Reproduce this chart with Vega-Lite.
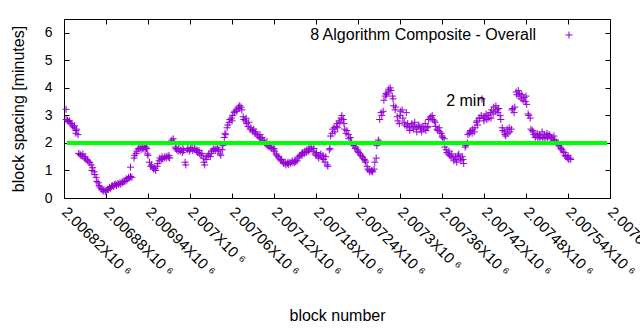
{
"$schema": "https://vega.github.io/schema/vega-lite/v6.json",
"width": 546, "height": 179,
"autosize": "none",
"padding": {"left": 64, "top": 19, "right": 30, "bottom": 132},
"background": "white",
"config": {
  "font": "Liberation Sans",
  "view": {"stroke": "black", "strokeWidth": 1},
  "axis": {"labelFont": "Liberation Sans", "labelFontSize": 14, "labelColor": "black", "titleFont": "Liberation Sans", "titleFontSize": 16, "titleFontWeight": "normal", "titleColor": "black", "domain": false, "grid": false, "tickColor": "black", "tickSize": -5, "tickWidth": 1},
  "legend": {"orient": "none", "legendX": 497, "legendY": 8, "padding": 0, "labelAlign": "right", "labelOffset": -41, "labelFont": "Liberation Sans", "labelFontSize": 16, "labelColor": "black", "labelLimit": 400, "symbolType": "M-1,0L1,0M0,-1L0,1", "symbolSize": 49, "symbolStrokeWidth": 1, "symbolFillColor": "transparent"}
},
"datasets": {
"target": [{"block": 2006824, "minutes": 2}, {"block": 2007596, "minutes": 2}],
"spacing": [
{"block":2006823,"minutes":3.22},{"block":2006823,"minutes":2.85},{"block":2006825,"minutes":2.82},{"block":2006826,"minutes":2.78},{"block":2006828,"minutes":2.8},{"block":2006829,"minutes":2.72},{"block":2006831,"minutes":2.7},{"block":2006832,"minutes":2.62},{"block":2006834,"minutes":2.55},{"block":2006835,"minutes":2.62},{"block":2006837,"minutes":2.35},{"block":2006837,"minutes":2.45},{"block":2006838,"minutes":2.5},{"block":2006840,"minutes":2.3},{"block":2006841,"minutes":1.62},{"block":2006843,"minutes":1.58},{"block":2006844,"minutes":1.55},{"block":2006846,"minutes":1.52},{"block":2006847,"minutes":1.6},{"block":2006849,"minutes":1.45},{"block":2006850,"minutes":1.5},{"block":2006851,"minutes":1.42},{"block":2006853,"minutes":1.38},{"block":2006854,"minutes":1.35},{"block":2006856,"minutes":1.3},{"block":2006857,"minutes":1.28},{"block":2006859,"minutes":1.2},{"block":2006860,"minutes":1.0},{"block":2006861,"minutes":1.1},{"block":2006863,"minutes":0.95},{"block":2006864,"minutes":0.85},{"block":2006866,"minutes":0.75},{"block":2006867,"minutes":0.6},{"block":2006869,"minutes":0.55},{"block":2006870,"minutes":0.45},{"block":2006871,"minutes":0.4},{"block":2006873,"minutes":0.35},{"block":2006874,"minutes":0.3},{"block":2006876,"minutes":0.25},{"block":2006877,"minutes":0.3},{"block":2006879,"minutes":0.22},{"block":2006880,"minutes":0.28},{"block":2006882,"minutes":0.32},{"block":2006883,"minutes":0.3},{"block":2006885,"minutes":0.38},{"block":2006886,"minutes":0.35},{"block":2006888,"minutes":0.42},{"block":2006889,"minutes":0.45},{"block":2006891,"minutes":0.42},{"block":2006892,"minutes":0.48},{"block":2006894,"minutes":0.5},{"block":2006895,"minutes":0.45},{"block":2006897,"minutes":0.52},{"block":2006898,"minutes":0.5},{"block":2006900,"minutes":0.55},{"block":2006901,"minutes":0.5},{"block":2006903,"minutes":0.58},{"block":2006904,"minutes":0.55},{"block":2006906,"minutes":0.62},{"block":2006907,"minutes":0.6},{"block":2006909,"minutes":0.7},{"block":2006910,"minutes":0.65},{"block":2006912,"minutes":0.75},{"block":2006913,"minutes":0.72},{"block":2006915,"minutes":0.78},{"block":2006915,"minutes":1.12},{"block":2006917,"minutes":0.75},{"block":2006920,"minutes":1.45},{"block":2006921,"minutes":1.55},{"block":2006923,"minutes":1.62},{"block":2006924,"minutes":1.7},{"block":2006926,"minutes":1.78},{"block":2006927,"minutes":1.8},{"block":2006929,"minutes":1.85},{"block":2006930,"minutes":1.75},{"block":2006932,"minutes":1.82},{"block":2006933,"minutes":1.78},{"block":2006935,"minutes":1.88},{"block":2006936,"minutes":1.75},{"block":2006937,"minutes":1.85},{"block":2006938,"minutes":1.8},{"block":2006939,"minutes":1.6},{"block":2006940,"minutes":1.55},{"block":2006942,"minutes":1.3},{"block":2006944,"minutes":1.15},{"block":2006945,"minutes":1.2},{"block":2006947,"minutes":1.1},{"block":2006948,"minutes":1.05},{"block":2006950,"minutes":1.08},{"block":2006951,"minutes":1.0},{"block":2006953,"minutes":1.15},{"block":2006954,"minutes":1.25},{"block":2006956,"minutes":1.35},{"block":2006957,"minutes":1.45},{"block":2006959,"minutes":1.4},{"block":2006960,"minutes":1.5},{"block":2006961,"minutes":1.42},{"block":2006963,"minutes":1.45},{"block":2006964,"minutes":1.5},{"block":2006966,"minutes":1.45},{"block":2006967,"minutes":1.52},{"block":2006969,"minutes":1.48},{"block":2006970,"minutes":1.55},{"block":2006971,"minutes":1.45},{"block":2006973,"minutes":2.05},{"block":2006974,"minutes":2.1},{"block":2006976,"minutes":2.15},{"block":2006977,"minutes":2.05},{"block":2006979,"minutes":1.85},{"block":2006980,"minutes":1.8},{"block":2006981,"minutes":1.75},{"block":2006983,"minutes":1.7},{"block":2006984,"minutes":1.8},{"block":2006986,"minutes":1.7},{"block":2006987,"minutes":1.75},{"block":2006989,"minutes":1.65},{"block":2006990,"minutes":1.8},{"block":2006991,"minutes":1.72},{"block":2006993,"minutes":1.3},{"block":2006994,"minutes":1.2},{"block":2006996,"minutes":1.75},{"block":2006997,"minutes":1.8},{"block":2006999,"minutes":1.7},{"block":2007000,"minutes":1.75},{"block":2007001,"minutes":1.82},{"block":2007003,"minutes":1.8},{"block":2007004,"minutes":1.72},{"block":2007006,"minutes":1.78},{"block":2007007,"minutes":1.8},{"block":2007009,"minutes":1.7},{"block":2007010,"minutes":1.75},{"block":2007011,"minutes":1.65},{"block":2007013,"minutes":1.72},{"block":2007014,"minutes":1.6},{"block":2007016,"minutes":1.55},{"block":2007017,"minutes":1.62},{"block":2007019,"minutes":1.45},{"block":2007020,"minutes":1.3},{"block":2007021,"minutes":1.2},{"block":2007023,"minutes":1.4},{"block":2007024,"minutes":1.5},{"block":2007026,"minutes":1.55},{"block":2007027,"minutes":1.6},{"block":2007029,"minutes":1.5},{"block":2007030,"minutes":1.62},{"block":2007031,"minutes":1.7},{"block":2007033,"minutes":1.75},{"block":2007034,"minutes":1.8},{"block":2007036,"minutes":1.72},{"block":2007037,"minutes":1.78},{"block":2007039,"minutes":1.82},{"block":2007040,"minutes":1.7},{"block":2007041,"minutes":1.75},{"block":2007043,"minutes":1.6},{"block":2007044,"minutes":1.55},{"block":2007046,"minutes":1.75},{"block":2007047,"minutes":1.9},
{"block":2007049,"minutes":2.2},{"block":2007050,"minutes":2.35},{"block":2007051,"minutes":2.3},{"block":2007053,"minutes":2.55},{"block":2007054,"minutes":2.65},{"block":2007056,"minutes":2.75},{"block":2007057,"minutes":2.85},{"block":2007059,"minutes":2.9},{"block":2007060,"minutes":2.8},{"block":2007061,"minutes":3.0},{"block":2007063,"minutes":3.1},{"block":2007064,"minutes":3.15},{"block":2007066,"minutes":3.2},{"block":2007067,"minutes":3.15},{"block":2007069,"minutes":3.3},{"block":2007070,"minutes":3.25},{"block":2007071,"minutes":3.35},{"block":2007073,"minutes":3.3},{"block":2007074,"minutes":3.2},{"block":2007076,"minutes":2.95},{"block":2007077,"minutes":2.85},{"block":2007079,"minutes":2.8},{"block":2007080,"minutes":2.9},{"block":2007081,"minutes":2.7},{"block":2007083,"minutes":2.6},{"block":2007084,"minutes":2.75},{"block":2007086,"minutes":2.5},{"block":2007087,"minutes":2.55},{"block":2007089,"minutes":2.45},{"block":2007090,"minutes":2.4},{"block":2007091,"minutes":2.5},{"block":2007093,"minutes":2.35},{"block":2007094,"minutes":2.4},{"block":2007096,"minutes":2.3},{"block":2007097,"minutes":2.25},{"block":2007099,"minutes":2.2},{"block":2007100,"minutes":2.3},{"block":2007101,"minutes":2.15},{"block":2007103,"minutes":2.2},{"block":2007104,"minutes":2.1},{"block":2007106,"minutes":2.05},{"block":2007107,"minutes":2.0},{"block":2007109,"minutes":1.95},{"block":2007110,"minutes":2.05},{"block":2007111,"minutes":1.9},{"block":2007113,"minutes":1.85},{"block":2007114,"minutes":1.95},{"block":2007116,"minutes":1.8},{"block":2007117,"minutes":1.85},{"block":2007119,"minutes":1.75},{"block":2007120,"minutes":1.8},{"block":2007121,"minutes":1.7},{"block":2007123,"minutes":1.6},{"block":2007124,"minutes":1.55},{"block":2007126,"minutes":1.5},{"block":2007127,"minutes":1.45},{"block":2007129,"minutes":1.4},{"block":2007130,"minutes":1.35},{"block":2007131,"minutes":1.4},{"block":2007133,"minutes":1.3},{"block":2007134,"minutes":1.25},{"block":2007136,"minutes":1.3},{"block":2007137,"minutes":1.2},{"block":2007139,"minutes":1.25},{"block":2007140,"minutes":1.3},{"block":2007141,"minutes":1.22},{"block":2007143,"minutes":1.3},{"block":2007144,"minutes":1.25},{"block":2007146,"minutes":1.35},{"block":2007147,"minutes":1.3},{"block":2007149,"minutes":1.28},{"block":2007150,"minutes":1.38},{"block":2007151,"minutes":1.32},{"block":2007153,"minutes":1.35},{"block":2007154,"minutes":1.45},{"block":2007156,"minutes":1.5},{"block":2007157,"minutes":1.55},{"block":2007159,"minutes":1.6},{"block":2007160,"minutes":1.55},{"block":2007161,"minutes":1.65},{"block":2007163,"minutes":1.6},{"block":2007164,"minutes":1.7},{"block":2007166,"minutes":1.65},{"block":2007167,"minutes":1.75},{"block":2007169,"minutes":1.7},{"block":2007170,"minutes":1.8},{"block":2007171,"minutes":1.75},{"block":2007173,"minutes":1.85},{"block":2007174,"minutes":1.78},{"block":2007176,"minutes":1.7},{"block":2007177,"minutes":1.8},{"block":2007179,"minutes":1.6},{"block":2007180,"minutes":1.55},{"block":2007181,"minutes":1.65},{"block":2007183,"minutes":1.5},{"block":2007184,"minutes":1.45},{"block":2007186,"minutes":1.55},
{"block":2007187,"minutes":1.6},{"block":2007189,"minutes":1.45},{"block":2007190,"minutes":1.55},{"block":2007191,"minutes":1.4},{"block":2007193,"minutes":1.3},{"block":2007194,"minutes":1.5},{"block":2007196,"minutes":1.2},{"block":2007197,"minutes":1.15},{"block":2007199,"minutes":1.75},{"block":2007200,"minutes":1.8},{"block":2007201,"minutes":2.25},{"block":2007203,"minutes":2.35},{"block":2007204,"minutes":2.5},{"block":2007206,"minutes":2.55},{"block":2007207,"minutes":2.4},{"block":2007209,"minutes":2.6},{"block":2007210,"minutes":2.7},{"block":2007211,"minutes":2.55},{"block":2007213,"minutes":2.8},{"block":2007214,"minutes":2.75},{"block":2007216,"minutes":2.9},{"block":2007217,"minutes":3.0},{"block":2007219,"minutes":2.85},{"block":2007220,"minutes":2.7},{"block":2007221,"minutes":2.5},{"block":2007223,"minutes":2.35},{"block":2007224,"minutes":2.45},{"block":2007226,"minutes":2.3},{"block":2007227,"minutes":2.15},{"block":2007229,"minutes":2.2},{"block":2007230,"minutes":2.05},{"block":2007231,"minutes":2.0},{"block":2007233,"minutes":1.95},{"block":2007234,"minutes":1.9},{"block":2007236,"minutes":1.8},{"block":2007237,"minutes":1.85},{"block":2007239,"minutes":1.75},{"block":2007240,"minutes":1.7},{"block":2007241,"minutes":1.65},{"block":2007243,"minutes":1.6},{"block":2007244,"minutes":1.55},{"block":2007246,"minutes":1.5},{"block":2007247,"minutes":1.45},{"block":2007249,"minutes":1.4},{"block":2007250,"minutes":1.35},{"block":2007251,"minutes":1.3},{"block":2007253,"minutes":1.15},{"block":2007254,"minutes":1.05},{"block":2007256,"minutes":1.0},{"block":2007257,"minutes":0.95},{"block":2007259,"minutes":0.98},{"block":2007260,"minutes":1.0},{"block":2007261,"minutes":0.95},{"block":2007263,"minutes":1.05},{"block":2007264,"minutes":1.3},{"block":2007266,"minutes":1.45},{"block":2007267,"minutes":1.9},{"block":2007269,"minutes":2.1},{"block":2007270,"minutes":2.05},{"block":2007271,"minutes":2.85},{"block":2007273,"minutes":3.1},{"block":2007274,"minutes":3.0},{"block":2007276,"minutes":3.15},{"block":2007277,"minutes":3.55},{"block":2007279,"minutes":3.7},{"block":2007280,"minutes":3.8},{"block":2007281,"minutes":3.75},{"block":2007283,"minutes":3.85},{"block":2007284,"minutes":3.95},{"block":2007286,"minutes":4.0},{"block":2007287,"minutes":3.9},{"block":2007289,"minutes":3.7},{"block":2007290,"minutes":3.6},{"block":2007291,"minutes":3.35},{"block":2007293,"minutes":3.2},{"block":2007294,"minutes":3.3},{"block":2007296,"minutes":2.95},{"block":2007297,"minutes":2.8},{"block":2007299,"minutes":2.7},{"block":2007300,"minutes":3.0},{"block":2007301,"minutes":3.15},{"block":2007303,"minutes":3.2},{"block":2007304,"minutes":2.9},{"block":2007306,"minutes":2.75},{"block":2007307,"minutes":2.65},
{"block":2007309,"minutes":3.1},{"block":2007310,"minutes":2.6},{"block":2007311,"minutes":2.7},{"block":2007313,"minutes":2.55},{"block":2007314,"minutes":2.45},{"block":2007316,"minutes":2.65},{"block":2007317,"minutes":2.7},{"block":2007319,"minutes":2.5},{"block":2007320,"minutes":2.6},{"block":2007321,"minutes":2.75},{"block":2007323,"minutes":2.55},{"block":2007324,"minutes":2.4},{"block":2007326,"minutes":2.6},{"block":2007327,"minutes":2.65},{"block":2007329,"minutes":2.5},{"block":2007330,"minutes":2.55},{"block":2007331,"minutes":2.4},{"block":2007333,"minutes":2.6},{"block":2007334,"minutes":2.5},{"block":2007336,"minutes":2.7},{"block":2007337,"minutes":2.45},{"block":2007339,"minutes":2.55},{"block":2007340,"minutes":2.6},{"block":2007341,"minutes":2.85},{"block":2007343,"minutes":2.9},{"block":2007344,"minutes":2.95},{"block":2007346,"minutes":3.0},{"block":2007347,"minutes":2.85},{"block":2007349,"minutes":2.8},{"block":2007350,"minutes":2.75},{"block":2007351,"minutes":2.6},{"block":2007353,"minutes":2.5},{"block":2007354,"minutes":2.45},{"block":2007356,"minutes":2.55},{"block":2007357,"minutes":2.4},{"block":2007359,"minutes":2.35},{"block":2007360,"minutes":2.25},{"block":2007361,"minutes":2.2},{"block":2007363,"minutes":2.15},{"block":2007364,"minutes":1.85},{"block":2007366,"minutes":1.75},{"block":2007367,"minutes":1.65},{"block":2007369,"minutes":1.6},{"block":2007370,"minutes":1.7},{"block":2007371,"minutes":1.55},{"block":2007373,"minutes":1.5},{"block":2007374,"minutes":1.6},{"block":2007376,"minutes":1.45},{"block":2007377,"minutes":1.35},{"block":2007379,"minutes":1.5},{"block":2007380,"minutes":1.4},{"block":2007381,"minutes":1.3},{"block":2007383,"minutes":1.55},{"block":2007384,"minutes":1.6},{"block":2007386,"minutes":1.45},{"block":2007387,"minutes":1.35},{"block":2007389,"minutes":1.5},{"block":2007390,"minutes":1.4},{"block":2007391,"minutes":1.25},{"block":2007393,"minutes":1.85},{"block":2007394,"minutes":1.9},{"block":2007396,"minutes":2.0},{"block":2007397,"minutes":2.3},{"block":2007399,"minutes":2.35},{"block":2007400,"minutes":2.4},{"block":2007401,"minutes":2.45},{"block":2007403,"minutes":2.35},{"block":2007404,"minutes":2.5},{"block":2007406,"minutes":2.4},{"block":2007407,"minutes":2.55},{"block":2007409,"minutes":2.75},{"block":2007410,"minutes":2.8},{"block":2007411,"minutes":2.65},{"block":2007413,"minutes":2.9},{"block":2007414,"minutes":2.9},{"block":2007416,"minutes":3.0},{"block":2007417,"minutes":3.6},{"block":2007419,"minutes":2.9},{"block":2007420,"minutes":2.8},{"block":2007421,"minutes":2.95},{"block":2007423,"minutes":3.05},{"block":2007424,"minutes":2.85},{"block":2007426,"minutes":3.0},{"block":2007427,"minutes":2.9},{"block":2007429,"minutes":3.1},
{"block":2007430,"minutes":2.9},{"block":2007431,"minutes":3.2},{"block":2007433,"minutes":3.05},{"block":2007434,"minutes":3.3},{"block":2007436,"minutes":3.15},{"block":2007437,"minutes":3.35},{"block":2007439,"minutes":3.2},{"block":2007440,"minutes":3.1},{"block":2007441,"minutes":3.25},{"block":2007443,"minutes":3.0},{"block":2007444,"minutes":2.85},{"block":2007446,"minutes":2.55},{"block":2007447,"minutes":2.45},{"block":2007449,"minutes":2.4},{"block":2007450,"minutes":2.3},{"block":2007451,"minutes":2.25},{"block":2007453,"minutes":2.5},{"block":2007454,"minutes":2.35},{"block":2007456,"minutes":2.55},{"block":2007457,"minutes":2.4},{"block":2007459,"minutes":2.5},{"block":2007460,"minutes":3.2},{"block":2007461,"minutes":3.25},{"block":2007463,"minutes":3.1},{"block":2007464,"minutes":3.3},{"block":2007466,"minutes":3.85},{"block":2007467,"minutes":3.75},{"block":2007469,"minutes":3.9},{"block":2007470,"minutes":3.7},{"block":2007471,"minutes":3.8},{"block":2007473,"minutes":3.6},{"block":2007474,"minutes":3.75},{"block":2007476,"minutes":3.55},{"block":2007477,"minutes":3.65},{"block":2007479,"minutes":3.5},{"block":2007480,"minutes":3.7},{"block":2007481,"minutes":3.4},{"block":2007483,"minutes":3.05},{"block":2007484,"minutes":3.0},{"block":2007486,"minutes":2.9},{"block":2007487,"minutes":2.5},{"block":2007489,"minutes":2.45},{"block":2007490,"minutes":2.4},{"block":2007491,"minutes":2.3},{"block":2007493,"minutes":2.2},{"block":2007494,"minutes":2.25},{"block":2007496,"minutes":2.35},{"block":2007497,"minutes":2.2},{"block":2007499,"minutes":2.3},{"block":2007500,"minutes":2.15},{"block":2007501,"minutes":2.25},{"block":2007503,"minutes":2.4},{"block":2007504,"minutes":2.2},{"block":2007506,"minutes":2.3},{"block":2007507,"minutes":2.15},{"block":2007509,"minutes":2.25},{"block":2007510,"minutes":2.35},{"block":2007511,"minutes":2.2},{"block":2007513,"minutes":2.3},{"block":2007514,"minutes":2.25},{"block":2007516,"minutes":2.15},{"block":2007517,"minutes":2.2},{"block":2007519,"minutes":2.1},{"block":2007520,"minutes":2.25},{"block":2007521,"minutes":2.1},{"block":2007523,"minutes":2.05},{"block":2007524,"minutes":2.0},{"block":2007526,"minutes":2.0},{"block":2007527,"minutes":1.9},{"block":2007529,"minutes":1.85},{"block":2007530,"minutes":1.8},{"block":2007531,"minutes":1.75},{"block":2007533,"minutes":1.7},{"block":2007534,"minutes":1.65},{"block":2007536,"minutes":1.55},{"block":2007537,"minutes":1.5},{"block":2007539,"minutes":1.45},{"block":2007540,"minutes":1.55},{"block":2007541,"minutes":1.4},{"block":2007543,"minutes":1.45},{"block":2007544,"minutes":1.4}
]
},
"layer": [
  {
    "data": {"name": "spacing"},
    "mark": {"type": "point", "shape": "M-1,0L1,0M0,-1L0,1", "filled": false, "size": 49, "strokeWidth": 1, "opacity": 1},
    "encoding": {
      "x": {"field": "block", "type": "quantitative",
        "scale": {"domain": [2006820, 2007600], "nice": false, "zero": false},
        "axis": {"orient": "bottom", "values": [2006820, 2006880, 2006940, 2007000, 2007060, 2007120, 2007180, 2007240, 2007300, 2007360, 2007420, 2007480, 2007540, 2007600],
          "labelExpr": "(datum.value / 1000000) + 'X10 ⁶'", "labelAngle": 45, "labelAlign": "left", "labelBaseline": "middle", "labelPadding": 16, "labelFontSize": 15,
          "labelOverlap": false, "labelBound": false, "labelFlush": false,
          "title": "block number", "titleY": 117, "titleBaseline": "middle"}},
      "y": {"field": "minutes", "type": "quantitative",
        "scale": {"domain": [0, 6.5], "nice": false, "zero": true},
        "axis": {"orient": "left", "values": [0, 1, 2, 3, 4, 5, 6], "labelPadding": 17, "title": "block spacing [minutes]", "titleX": -46, "titleBaseline": "middle"}},
      "color": {"datum": "8 Algorithm Composite - Overall", "type": "nominal", "scale": {"range": ["#9400d3"]}, "legend": {"title": null}}
    }
  },
  {
    "data": {"name": "target"},
    "mark": {"type": "line", "color": "#00ff00", "strokeWidth": 4},
    "encoding": {
      "x": {"field": "block", "type": "quantitative", "axis": null},
      "y": {"field": "minutes", "type": "quantitative", "axis": null}
    }
  },
  {
    "data": {"values": [{}]},
    "mark": {"type": "text", "text": "2 min", "align": "left", "baseline": "middle", "fontSize": 16, "font": "Liberation Sans", "color": "black"},
    "encoding": {
      "x": {"datum": 2007366, "type": "quantitative", "axis": {"orient": "top", "values": [2006820, 2006880, 2006940, 2007000, 2007060, 2007120, 2007180, 2007240, 2007300, 2007360, 2007420, 2007480, 2007540, 2007600], "labels": false, "title": null}},
      "y": {"datum": 3.52, "type": "quantitative", "axis": {"orient": "right", "values": [0, 1, 2, 3, 4, 5, 6], "labels": false, "title": null}}
    }
  }
],
"resolve": {"axis": {"x": "independent", "y": "independent"}}
}
